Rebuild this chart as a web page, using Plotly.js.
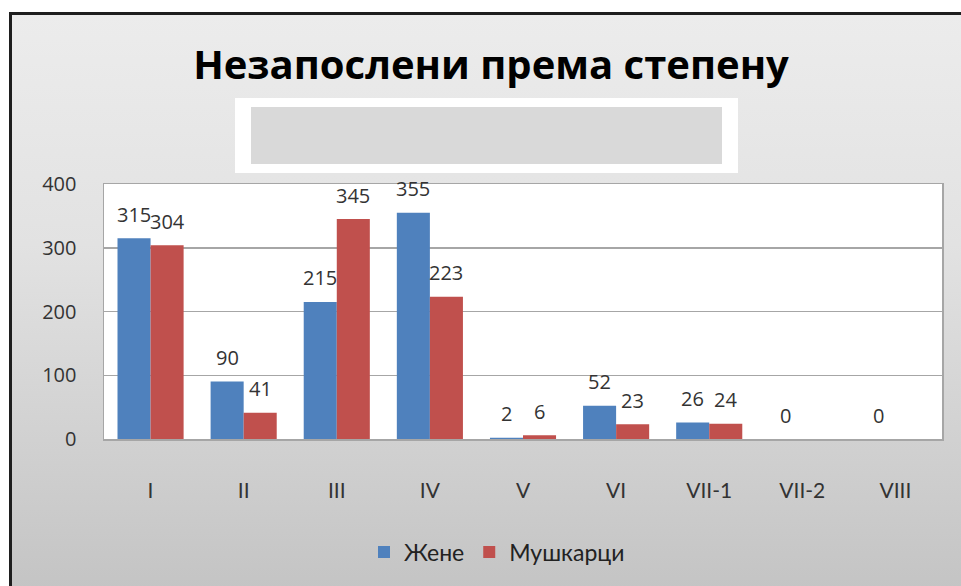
<!DOCTYPE html>
<html>
<head>
<meta charset="utf-8">
<script src="https://cdn.plot.ly/plotly-3.0.1.min.js"></script>
<style>
html,body{margin:0;padding:0;background:#ffffff;width:961px;height:586px;overflow:hidden;}
#bg{position:absolute;left:9px;top:12px;width:952px;height:574px;border-left:3px solid #1e1e1e;border-top:3px solid #1e1e1e;background:linear-gradient(to bottom,#ececec 0%,#e2e2e2 40%,#c4c4c4 100%);}
#chart{position:absolute;left:0;top:0;width:961px;height:586px;}
</style>
</head>
<body>
<div id="bg"></div>
<div id="chart"></div>
<script>
const categories = ["I","II","III","IV","V","VI","VII-1","VII-2","VIII"];
const zene = [315, 90, 215, 355, 2, 52, 26, 0, 0];
const muskarci = [304, 41, 345, 223, 6, 23, 24, null, null];
const seriesNames = ["Жене", "Мушкарци"];
const yTicks = [0, 100, 200, 300, 400];

const W = 961, H = 586;
const M = {l:104, r:19, t:184, b:147};
const plotW = W - M.l - M.r, plotH = H - M.t - M.b;
const px2x = v => (v - M.l) / plotW;
const px2y = v => (H - M.b - v) / plotH;
const FONT = "'Open Sans', Lato, sans-serif";
const LFONT = "Lato, 'Open Sans', sans-serif";
const blue = "#4F81BD", red = "#C0504D";

const traces = [
  {type:"bar", name:seriesNames[0], x:categories, y:zene, marker:{color:blue}, hoverinfo:"none"},
  {type:"bar", name:seriesNames[1], x:categories, y:muskarci, marker:{color:red}, hoverinfo:"none"}
];

const annotations = [];
const barHalf = 16.5;
[[zene,-barHalf],[muskarci,barHalf]].forEach(([vals,shift])=>{
  vals.forEach((v,i)=>{
    if(v===null) return;
    annotations.push({x:categories[i], y:v, xref:"x", yref:"y", text:String(v),
      showarrow:false, xshift:shift, yshift:24, font:{family:FONT,size:20,color:"#333333"}});
  });
});

const shapes = [
  {type:"rect", xref:"paper", yref:"paper", x0:px2x(235), x1:px2x(738), y0:px2y(173), y1:px2y(98), fillcolor:"#ffffff", line:{width:0}, layer:"above"},
  {type:"rect", xref:"paper", yref:"paper", x0:px2x(251), x1:px2x(722), y0:px2y(164), y1:px2y(107), fillcolor:"#d9d9d9", line:{width:0}, layer:"above"}
];

const layout = {
  width:W, height:H,
  margin:M,
  paper_bgcolor:"rgba(0,0,0,0)",
  plot_bgcolor:"#ffffff",
  title:{text:"<b>Незапослени према степену</b>", x:491/W, xref:"container", xanchor:"center", y:1-65/H, yref:"container", yanchor:"middle", font:{family:FONT,size:40,color:"#000000"}},
  barmode:"group", bargap:0.29, bargroupgap:0,
  xaxis:{type:"category", showline:true, mirror:true, linecolor:"#a6a6a6", linewidth:1.5, showgrid:false, ticks:"", ticklabelstandoff:32,
    tickfont:{family:LFONT,size:21,color:"#333333"}},
  yaxis:{range:[0,400], tickvals:yTicks, showline:true, mirror:true, linecolor:"#a6a6a6", linewidth:1.5, gridcolor:"#a6a6a6", gridwidth:1.5, zeroline:false, ticks:"", ticklabelstandoff:22,
    tickfont:{family:FONT,size:20,color:"#333333"}},
  showlegend:true,
  legend:{orientation:"h", x:px2x(497), xanchor:"center", y:px2y(552), yanchor:"middle", font:{family:LFONT,size:23,color:"#222222"}, bgcolor:"rgba(0,0,0,0)", itemwidth:30, traceorder:"normal"},
  annotations:annotations,
  shapes:shapes
};

Plotly.newPlot("chart", traces, layout, {displayModeBar:false, staticPlot:true});
</script>
</body>
</html>
